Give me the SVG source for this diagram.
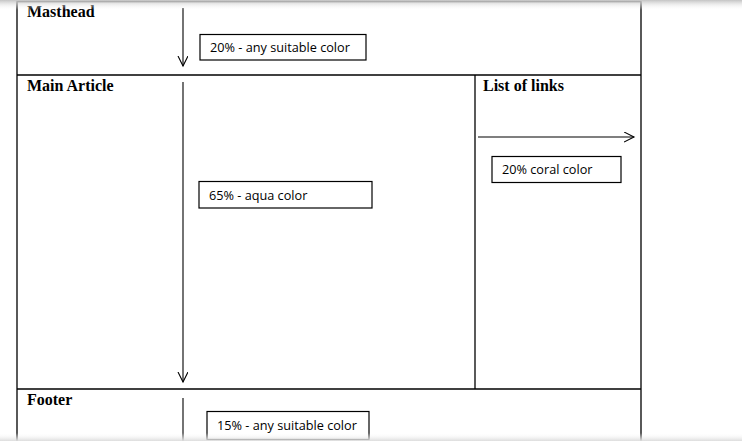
<svg xmlns="http://www.w3.org/2000/svg" width="742" height="441" viewBox="0 0 742 441">
<defs>
<style>
.frame{fill:none;stroke:#000;stroke-width:1.3}
.box{fill:#fff;stroke:#000;stroke-width:1.2}
.title{font-family:"Liberation Serif","Times New Roman",serif;font-weight:bold;font-size:16px;fill:#000}
.lbl{font-family:"Open Sans","Liberation Sans",sans-serif;font-size:12.7px;fill:#000}
.conn{stroke:#000;stroke-width:1.1;fill:none}
</style>
<marker id="arr" markerWidth="12" markerHeight="12" refX="10" refY="5" orient="auto" markerUnits="userSpaceOnUse">
<path d="M0,0 L10,5 L0,10" fill="none" stroke="#000" stroke-width="1.1"/>
</marker>
<linearGradient id="topg" x1="0" y1="0" x2="0" y2="1">
<stop offset="0" stop-color="#c4c4c4"/>
<stop offset="1" stop-color="#ffffff" stop-opacity="0"/>
</linearGradient>
<linearGradient id="botg" x1="0" y1="0" x2="0" y2="1">
<stop offset="0" stop-color="#ffffff" stop-opacity="0"/>
<stop offset="1" stop-color="#dcdcdc"/>
</linearGradient>
</defs>
<rect width="742" height="441" fill="#fff"/>
<g id="masthead">
<path class="frame" d="M17,441 L17,1.5 L641,1.5 L641,441"/>
<text class="title" x="27" y="17">Masthead</text>
</g>
<g id="main-article">
<line class="frame" x1="17" y1="75" x2="641" y2="75"/>
<text class="title" x="27" y="91">Main Article</text>
</g>
<g id="list-of-links">
<line class="frame" x1="475" y1="75" x2="475" y2="389"/>
<text class="title" x="483" y="91">List of links</text>
</g>
<g id="footer">
<line class="frame" x1="17" y1="389" x2="641" y2="389"/>
<text class="title" x="27" y="405">Footer</text>
</g>
<g id="connectors">
<line class="conn" x1="183" y1="8" x2="183" y2="66" marker-end="url(#arr)"/>
<line class="conn" x1="183" y1="82" x2="183" y2="382" marker-end="url(#arr)"/>
<line class="conn" x1="183" y1="398" x2="183" y2="441"/>
<line class="conn" x1="478" y1="137" x2="634" y2="137" marker-end="url(#arr)"/>
</g>
<g id="label-masthead">
<rect class="box" x="200" y="34.5" width="166" height="25.5"/>
<text class="lbl" x="210" y="52">20% - any suitable color</text>
</g>
<g id="label-main">
<rect class="box" x="199" y="181.5" width="173" height="26.5"/>
<text class="lbl" x="209" y="200">65% - aqua color</text>
</g>
<g id="label-links">
<rect class="box" x="492" y="156.5" width="129" height="26"/>
<text class="lbl" x="502" y="174">20% coral color</text>
</g>
<g id="label-footer">
<rect class="box" x="207" y="411.5" width="162" height="28"/>
<text class="lbl" x="217" y="430">15% - any suitable color</text>
</g>
<rect x="0" y="0" width="742" height="10" fill="url(#topg)"/>
<rect x="0" y="433" width="742" height="8" fill="url(#botg)"/>
</svg>
